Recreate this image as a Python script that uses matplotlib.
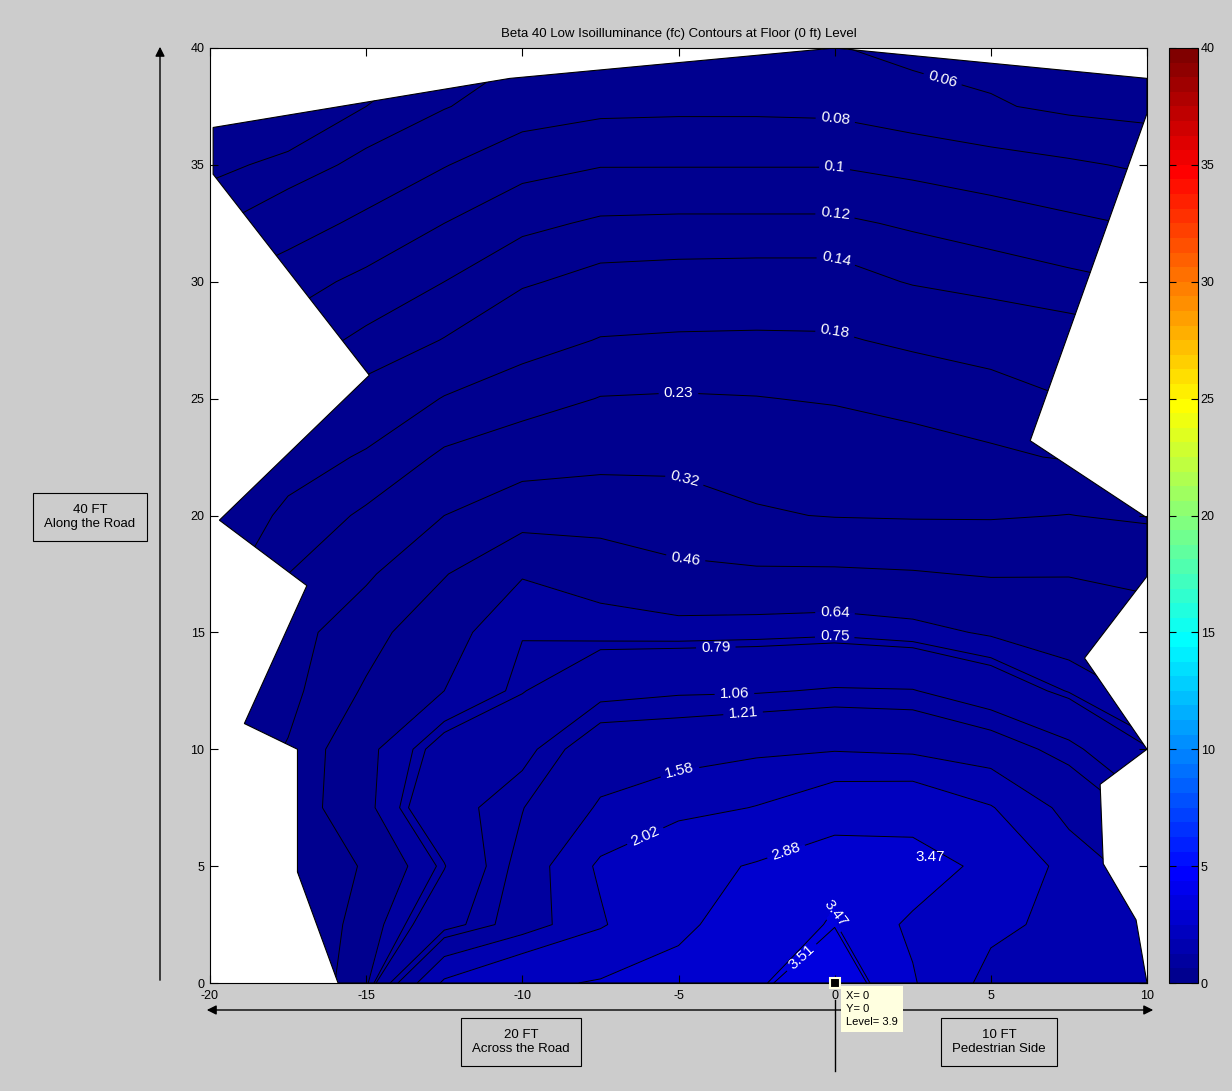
import numpy as np
import matplotlib
matplotlib.use("Agg")
import matplotlib.pyplot as plt
from matplotlib.colors import ListedColormap, Normalize
from matplotlib.cm import ScalarMappable
from matplotlib.patches import Polygon, FancyArrowPatch
from matplotlib.lines import Line2D

x_ft = [-20, -17.5, -15, -12.5, -10, -7.5, -5, -2.5, 0, 2.5, 5, 7.5, 10]
y_ft = [0, 2.5, 5, 7.5, 10, 12.5, 15, 17.5, 20, 22.5, 25, 27.5, 30, 32.5, 35, 37.5, 40]
fc_grid = [
    [0.20, 0.25, 0.60, 2.10, 2.70, 2.95, 3.20, 3.40, 3.90, 2.95, 1.75, 1.75, 1.70],
    [0.20, 0.25, 0.55, 0.95, 1.35, 1.95, 2.70, 3.35, 3.49, 2.75, 2.20, 1.80, 1.70],
    [0.25, 0.30, 0.48, 0.78, 1.30, 2.10, 2.60, 2.95, 3.42, 3.30, 2.65, 1.80, 1.40],
    [0.25, 0.35, 0.60, 0.95, 1.20, 1.62, 1.85, 2.04, 2.40, 2.45, 2.05, 1.45, 1.10],
    [0.20, 0.33, 0.60, 0.85, 0.98, 1.40, 1.42, 1.50, 1.55, 1.50, 1.35, 1.12, 0.80],
    [0.18, 0.28, 0.48, 0.64, 0.78, 0.98, 1.03, 1.04, 1.08, 1.07, 0.92, 0.74, 0.60],
    [0.20, 0.27, 0.40, 0.58, 0.745, 0.71, 0.70, 0.71, 0.726, 0.69, 0.62, 0.55, 0.50],
    [0.15, 0.23, 0.30, 0.45, 0.63, 0.57, 0.49, 0.48, 0.48, 0.47, 0.45, 0.455, 0.44],
    [0.14, 0.19, 0.24, 0.32, 0.39, 0.39, 0.38, 0.33, 0.315, 0.31, 0.31, 0.322, 0.30],
    [0.13, 0.16, 0.185, 0.24, 0.27, 0.29, 0.29, 0.28, 0.268, 0.255, 0.24, 0.225, 0.21],
    [0.12, 0.13, 0.15, 0.182, 0.205, 0.232, 0.235, 0.232, 0.225, 0.212, 0.198, 0.18, 0.17],
    [0.095, 0.108, 0.125, 0.141, 0.163, 0.182, 0.185, 0.186, 0.185, 0.172, 0.162, 0.153, 0.145],
    [0.078, 0.092, 0.105, 0.12, 0.137, 0.148, 0.15, 0.151, 0.151, 0.138, 0.131, 0.125, 0.119],
    [0.058, 0.07, 0.085, 0.1, 0.115, 0.123, 0.124, 0.124, 0.124, 0.117, 0.111, 0.104, 0.098],
    [0.047, 0.053, 0.064, 0.079, 0.093, 0.099, 0.099, 0.099, 0.099, 0.094, 0.088, 0.083, 0.077],
    [0.03, 0.04, 0.05, 0.059, 0.07, 0.075, 0.076, 0.076, 0.075, 0.068, 0.062, 0.056, 0.053],
    [0.02, 0.03, 0.04, 0.05, 0.058, 0.062, 0.064, 0.063, 0.061, 0.055, 0.053, 0.052, 0.051],
]

# outline of the measured area
outline_x = [-15.9, -17.2, -17.2, -18.9, -16.9, -19.7, -14.9, -19.9, -19.9, -10.4, 0,
             10, 10, 6.26, 10, 10, 8.0, 10, 8.5, 8.6, 9.65, 10]
outline_y = [0, 4.75, 10.0, 11.1, 17.0, 19.8, 26.0, 34.6, 36.6, 38.7, 40,
             38.7, 37.2, 23.2, 19.9, 17.4, 13.9, 10.0, 8.5, 5.1, 2.7, 0]

contour_levels = [0.05, 0.06, 0.08, 0.1, 0.12, 0.14, 0.18, 0.23, 0.32, 0.46, 0.64,
                  0.75, 0.79, 1.06, 1.21, 1.58, 2.02, 2.88, 3.47, 3.51]

label_levels = [0.06, 0.08, 0.1, 0.12, 0.14, 0.18, 0.23, 0.32, 0.46, 0.64,
                0.75, 0.79, 1.06, 1.21, 1.58, 2.02, 2.88, 3.47, 3.51]
label_x = [3.2, 0, 0, 0, 0, 0, -5.0, -4.9, -4.8, 0, 0, -3.8, -3.2, -2.9, -4.9, -5.9, -1.6, 0.1, -1.2]
label_y = [37.5, 36.8, 34.9, 32.8, 30.8, 27.8, 25.2, 21.2, 17.8, 15.7, 14.8, 14.0,
           11.9, 10.9, 8.6, 5.8, 5.8, 3.0, 1.3]

clim = (0, 40)
tip_x, tip_y, tip_level = 0, 0, 3.9

TITLE = "Beta 40 Low Isoilluminance (fc) Contours at Floor (0 ft) Level"
BG = (0.8, 0.8, 0.8)


def matlab_jet(m=64):
    n = int(np.ceil(m / 4))
    u = np.concatenate([np.arange(1, n + 1) / n, np.ones(n - 1), np.arange(n, 0, -1) / n])
    g = int(np.ceil(n / 2)) - int(m % 4 == 1) + np.arange(1, len(u) + 1)
    r = g + n
    b = g - n
    jet = np.zeros((m, 3))
    ok = r <= m
    jet[r[ok] - 1, 0] = u[ok]
    ok = g <= m
    jet[g[ok] - 1, 1] = u[ok]
    ok = b >= 1
    jet[b[ok] - 1, 2] = u[ok]
    return ListedColormap(jet)


def px_fig(x, y):
    # pixel position of the 1232x1091 canvas -> figure fraction
    return x / 1232, 1 - y / 1091


def draw_contours(ax, cmap):
    X, Y = np.meshgrid(x_ft, y_ft)
    Z = np.array(fc_grid)
    fill_levels = [clim[0]] + contour_levels + [4.0]
    m = cmap.N
    band_colors = [cmap(min(int(lo / clim[1] * m), m - 1)) for lo in fill_levels[:-1]]
    cf = ax.contourf(X, Y, Z, levels=fill_levels, colors=band_colors)

    outline = Polygon(np.column_stack([outline_x, outline_y]), closed=True,
                      facecolor="none", edgecolor="k", linewidth=0.8, zorder=3)
    ax.add_patch(outline)
    cf.set_clip_path(outline)

    labels = dict(zip(label_levels, zip(label_x, label_y)))
    # one contour set per level so each label snaps to its own line
    for lev in contour_levels:
        cs = ax.contour(X, Y, Z, levels=[lev], colors="k", linewidths=0.7)
        cs.set_clip_path(outline)
        if lev in labels:
            cs.clabel(manual=[labels[lev]], inline=True, fmt="%g",
                      colors="white", fontsize=11)
    # stray label inside the 2.88 band, as on the original
    ax.text(3.05, 5.4, "3.47", color="white", fontsize=11, ha="center", va="center")


def main():
    plt.rcParams["font.family"] = ["Liberation Sans", "DejaVu Sans"]
    plt.rcParams["axes.unicode_minus"] = False
    fig = plt.figure(figsize=(12.32, 10.91), dpi=100, facecolor=BG)

    ax = fig.add_axes([210 / 1232, 108 / 1091, 937 / 1232, 935 / 1091])
    ax.set_facecolor("white")
    cmap = matlab_jet(64)
    draw_contours(ax, cmap)

    ax.set_xlim(-20, 10)
    ax.set_ylim(0, 40)
    ax.set_xticks(range(-20, 11, 5))
    ax.set_yticks(range(0, 41, 5))
    ax.tick_params(direction="in", top=True, right=True, length=6, labelsize=9)
    ax.tick_params(axis="x", pad=5)
    ax.tick_params(axis="y", pad=4)
    for sp in ax.spines.values():
        sp.set_linewidth(0.8)
    ax.set_title(TITLE, fontsize=9.5, pad=8)

    # data tip at the origin
    ax.plot([tip_x], [tip_y], "s", ms=7, mfc="k", mec=(1, 1, 0.88), mew=1.5,
            clip_on=False, zorder=20)
    tx, ty = px_fig(846, 991)
    fig.text(tx, ty, "X= {}\nY= {}\nLevel= {}".format(tip_x, tip_y, tip_level),
             ha="left", va="top", fontsize=8, linespacing=1.35,
             bbox=dict(boxstyle="square,pad=0.45", fc=(1, 1, 0.88), ec="none"))

    # colorbar
    cax = fig.add_axes([1169 / 1232, 108 / 1091, 29 / 1232, 935 / 1091])
    sm = ScalarMappable(norm=Normalize(*clim), cmap=cmap)
    cb = fig.colorbar(sm, cax=cax, ticks=range(0, 41, 5))
    cax.tick_params(axis="y", direction="in", left=True, right=True, length=5,
                    labelsize=9, pad=2)
    cb.outline.set_linewidth(0.8)

    # dimension arrows
    arrow_kw = dict(transform=fig.transFigure, color="k", lw=1.0, mutation_scale=14)
    fig.patches.append(FancyArrowPatch(px_fig(160, 983), px_fig(160, 44),
                                       arrowstyle="-|>", **arrow_kw))
    fig.patches.append(FancyArrowPatch(px_fig(204, 1010), px_fig(1156, 1010),
                                       arrowstyle="<|-|>", **arrow_kw))
    x0, y0 = px_fig(835, 1000)
    x1, y1 = px_fig(835, 1071)
    fig.lines.append(Line2D([x0, x1], [y0, y1], transform=fig.transFigure,
                            color="k", lw=1.0))

    box = dict(boxstyle="square,pad=0.85", fc=BG, ec="k", lw=0.8)
    for (px, py), txt in [((90, 517), "40 FT\nAlong the Road"),
                          ((521, 1042), "20 FT\nAcross the Road"),
                          ((999, 1042), "10 FT\nPedestrian Side")]:
        fx, fy = px_fig(px, py)
        fig.text(fx, fy, txt, ha="center", va="center", fontsize=9.5, bbox=box)

    fig.savefig("out.png", dpi=100, facecolor=BG)


if __name__ == '__main__':
    main()
